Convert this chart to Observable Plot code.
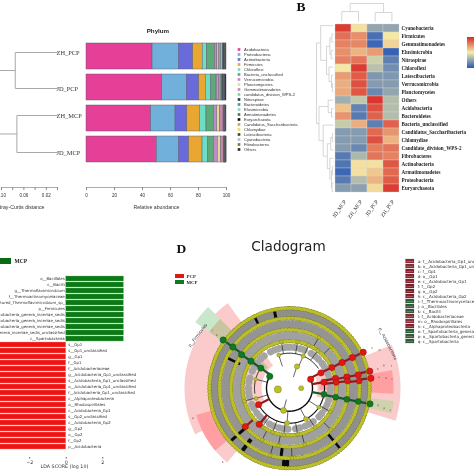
<!DOCTYPE html>
<html><head><meta charset="utf-8">
<script src="https://cdn.jsdelivr.net/npm/d3@7"></script>
<script src="https://cdn.jsdelivr.net/npm/@observablehq/plot@0.6"></script>
<style>
html,body{margin:0;padding:0;background:#fff}
#root{position:relative;width:474px;height:474px;overflow:hidden;filter:blur(.3px)}
#root svg{position:absolute;left:0;top:0}
</style></head><body><div id="root"></div>
<script>
// ---------- Panel A data
const samples = ["ZH_PCP","JD_PCP","ZH_MCP","JD_MCP"];
const phyla = ["Acidobacteria","Proteobacteria","Actinobacteria","Firmicutes","Chloroflexi","Bacteria_unclassified","Verrucomicrobia","Planctomycetes","Gemmatimonadetes","candidatus_division_WPS-2","Nitrospirae","Bacteroidetes","Elusimicrobia","Armatimonadetes","Euryarchaeota","Candidatus_Saccharibacteria","Chlamydiae","Latescibacteria","Cyanobacteria","Fibrobacteres","Others"];
const phylaColors = ["#E63F98","#71B0DB","#6A6BDB","#E9A732","#6FDCC6","#5BAA78","#BF8BC9","#E6D89B","#C68BA8","#6FD9A0","#2B3B42","#5A8A92","#82D8D0","#3E7E3E","#101010","#E0A030","#E8D860","#2F5030","#B8B8C8","#8A7030","#2A2A34"];
const zhPcp = [47.2,18.8,10.2,6.8,3.2,5.6,1.6,1.0,1.6,1.4,0.3,0.2,0.1,0.1,0.5,0.1,0.1,0.6,0.1,0.1,0.4];
const jdPcp = [54.1,17.6,8.8,4.7,3.8,3.4,1.2,0.8,1.6,1.0,0.2,0.2,0.1,0.1,0.6,0.1,0.1,0.4,0.1,0.1,1.0];
const zhMcp = [46.2,17.4,8.4,9.0,4.7,5.3,2.3,2.2,2.4,0.4,0.1,0.1,0.1,0.1,0.2,0.1,0.1,0.1,0.1,0.1,0.6];
const jdMcp = [50.2,15.8,7.3,9.6,4.1,4.0,2.8,2.4,1.8,0.4,0.1,0.1,0.1,0.1,0.2,0.1,0.1,0.1,0.1,0.1,0.6];
const abundanceTicks = [0,20,40,60,80,100];
const distanceTicks = [0.10,0.08,0.06,0.04,0.02,0];
const distanceLabels = [0.10,0.06,0.02];
// leaf rows of the Bray-Curtis tree, and the tree as [height, left, right]
const sampleRows = [0,1.08,1.89,3];
const sampleTree = [0.13,[0.0754,0,1],[0.0725,2,3]];
// ---------- Panel B data
const heatCols = ["JD_MCP","ZH_MCP","JD_PCP","ZH_PCP"];
const heatRows = ["Cyanobacteria","Firmicutes","Gemmatimonadetes","Elusimicrobia","Nitrospirae","Chloroflexi","Latescibacteria","Verrucomicrobia","Planctomycetes","Others","Acidobacteria","Bacteroidetes","Bacteria_unclassified","Candidatus_Saccharibacteria","Chlamydiae","Candidate_division_WPS-2","Fibrobacteres","Actinobacteria","Armatimonadetes","Proteobacteria","Euryarchaeota"];
const heatJdMcp = [1.4,1.0,0.85,0.75,0.85,0.05,0.65,0.5,0.55,-0.65,0.35,0.7,-0.35,-0.85,-0.85,-0.85,-1.2,-1.25,-1.4,-1.2,-0.85];
const heatZhMcp = [0.1,0.75,0.8,0.45,0.95,1.4,1.15,1.25,1.2,-0.4,-1.1,-1.2,0.5,-0.85,-0.85,-1.05,-0.55,0.1,0.1,-0.5,-0.8];
const heatJdPcp = [-0.75,-1.3,-1.4,0.65,-0.3,-0.45,-0.9,-0.85,-1.05,1.45,1.25,1.1,-1.15,1.05,1.25,0.9,0.95,0.1,0.3,0.45,0.15];
const heatZhPcp = [-0.75,0.05,0.2,-1.45,-1.15,-1.0,-0.9,-0.85,-0.75,-0.5,-0.5,-0.5,1.1,0.7,0.45,0.95,0.85,1.2,1.05,1.15,1.4];
const colorBar = [1.5,1.4,1.3,1.2,1.1,1,0.9,0.8,0.7,0.6,0.5,0.4,0.3,0.2,0.1,0,-0.1,-0.2,-0.3,-0.4,-0.5,-0.6,-0.7,-0.8,-0.9,-1,-1.1,-1.2,-1.3,-1.4,-1.5];
const colTree = [1,[0.55,0,1],[0.5,2,3]];
const rowTree = [1,
  [0.75,0,[0.4,[0.2,[0.08,1,2],[0.12,3,4]],[0.25,5,[0.1,6,[0.05,7,8]]]]],
  [0.85,[0.3,9,[0.1,10,11]],[0.6,12,[0.35,[0.15,[0.05,13,14],15],[0.2,16,[0.1,[0.05,17,18],[0.07,19,20]]]]]]];
// ---------- Panel C data
const mcpTaxa = ["o__Bacillales","c__Bacilli","g__Thermoflavimicrobium","f__Thermoactinomycetaceae","s__uncultured_Thermoflavimicrobium_sp_","p__Firmicutes","f__Spartobacteria_genera_incertae_sedis","o__Spartobacteria_genera_incertae_sedis","g__Spartobacteria_genera_incertae_sedis","s__Spartobacteria_genera_incertae_sedis_unclassified","c__Spartobacteria"];
const mcpLda = [3.16,3.15,3.16,3.16,3.15,3.16,3.16,3.15,3.16,3.16,3.15];
const pcpTaxa = ["s__Gp1","s__Gp1_unclassified","g__Gp1","f__Gp1","f__Acidobacteriaceae","g__Acidobacteria_Gp1_unclassified","s__Acidobacteria_Gp1_unclassified","o__Acidobacteria_Gp1_unclassified","f__Acidobacteria_Gp1_unclassified","c__Alphaproteobacteria","o__Rhodospirillales","c__Acidobacteria_Gp1","s__Gp2_unclassified","c__Acidobacteria_Gp2","g__Gp2","o__Gp2","f__Gp2","p__Acidobacteria"];
const pcpLda = [-4,-4,-4,-4,-4,-4,-4,-4,-4,-4,-4,-4,-4,-4,-4,-4,-4,-4];
const ldaTicks = [-2,0,2];
// ---------- Panel D data (bearing in degrees clockwise from north, level = ring)
const levelRadius = [0,11.7,23,35,47,58.5,70,82];
const sectors = [
  [67,107,28,111,"#FBCACA"],[80,93,30,104,"#FF9FA2"],[97,104,60,105,"#CFD2AC"],
  [244,324,28,105,"#FBCACA"],[220,246,55,97,"#FBCACA"],[230,254,68,97,"#FF9FA2"],
  [305,315,82,115,"#C9E8C9"],[305,315,30,98,"#C9C4A2"]];
const stripeBands = [
  [41,"#a4a4a4",7,".7 4 .5 5.5 1 3 .5 7.5 .7 3.5"],
  [52.5,"#a0a0a0",8,"1.3 1.7 .6 2.1 1.6 1.3 .5 2.8 2.2 1.5 .9 1.9"],
  [64,"#949494",8,"2.8 .9 1.1 1.3 3.4 1 .6 .9 1.8 1.6"],
  [75,"#8f8f8f",8,"3.4 1 1.2 1 2.2 1.4 .7 .9 4.4 1.1"]];
const blackWedges = [[183,71,81,7],[187,60,70,3],[217,64,81,4],[349,70,80,3],[334,70,80,2.5],[228,60,80,3],[140,60,80,2.5],[296,55,70,2.5]];
const blackArcs = [
  [23,67,301,1.4],[35,80,242,1.1],[35,345,415,1],[47,100,262,.8],[47,335,420,.8],[35,262,300,.9]];
const beadRings = [47,58.5,70,80];
const yellowNodes = [[264,1,3.6],[90,1,2.5],[195,2,3],[19,2,2.6],[184,3,2.5],[152,3,2.5],[123,3,2],[23,3,2.2],[253,3,2],[285,3,1.8],[342,3,2],
  [24,4,2],[37,4,2],[187,4,1.9],[147,4,1.9],[201,4,1.9],[254,4,1.9],[120,4,1.8],[170,4,1.8],[215,4,1.8],[350,4,1.8],[10,4,1.8],
  [191,5,1.8],[165,5,1.8],[135,5,1.8],[208,5,1.8],[30,5,1.8],[45,5,1.8],[196,6,1.8],[178,6,1.8]];
const redNodes = [[67,2,3.2],[64,3,3.2],[64,4,3.2],[64,5,3.2],[64,6,3.2],[64,7,3.2],[80,3,3.2],[78,4,3.2],[79,5,3.2],[79,6,3.2],[78,7,3.2],[83,4,3],[83,5,3],[84,6,3],[83,7,3.2],[242,3,3.2],[220,4,3.2],[229,5,3.2]];
const greenNodes = [[301,2,3.2],[305,3,3.2],[305,4,3.2],[305,5,3.2],[306,6,3.2],[306,7,3.2],[100,3,3],[101,4,3],[101,5,3],[101,6,3],[101,7,3.2]];
const nodeTags = [["n",64,92],["m",67,98],["h",78,90],["g",76,97],["f",78,104],["e",83,90],["d",84,97],["c",85,103],["q",101,90],["p",102,97],["o",102,103],["k",306,90],["j",307,97],["i",307,104],["a",253,101],["b",222,100]];
const cladoLegend = ["a: f__Acidobacteria_Gp1_unclassified","b: o__Acidobacteria_Gp1_unclassified","c: f__Gp1","d: o__Gp1","e: c__Acidobacteria_Gp1","f: f__Gp2","g: o__Gp2","h: c__Acidobacteria_Gp2","i: f__Thermoactinomycetaceae","j: o__Bacillales","k: c__Bacilli","l: f__Acidobacteriaceae","m: o__Rhodospirillales","n: c__Alphaproteobacteria","o: f__Spartobacteria_genera_incertae_sedis","p: o__Spartobacteria_genera_incertae_sedis","q: c__Spartobacteria"];
const cladoLegendColors = ["#8C2833","#8C2833","#8A1F2C","#8A1F2C","#8A1F2C","#7E1A26","#7E1A26","#8A1F2C","#2E5C3A","#2E5C3A","#2E5C3A","#8C2833","#8C2F3F","#8A1F2C","#2E5C3A","#2E5C3A","#2E5C3A"];

// ---------- helpers
const SANS = "'Liberation Sans',Arial,sans-serif", SERIF = "'Liberation Serif',serif", DEJA = "'DejaVu Sans',sans-serif";
const root = document.getElementById("root");
function fig(box, marks, scales = {}, font = SANS, size = 5) {
  const [l, t, r, b] = box;
  const svg = Plot.plot({width:474, height:474, marginLeft:l, marginTop:t, marginRight:474-r, marginBottom:474-b,
    x:{axis:null}, y:{axis:null}, ...scales, marks,
    style:{background:"transparent", fontFamily:font, fontSize:size+"px", overflow:"hidden"}});
  root.appendChild(svg);
  return svg;
}
function treeSegments(node, pos) {
  const segs = [];
  const walk = n => {
    if (typeof n === "number") return {h:0, p:pos(n)};
    const a = walk(n[1]), b = walk(n[2]), h = n[0];
    segs.push({h1:h,p1:a.p,h2:h,p2:b.p},{h1:a.h,p1:a.p,h2:h,p2:a.p},{h1:b.h,p1:b.p,h2:h,p2:b.p});
    return {h, p:(a.p+b.p)/2};
  };
  walk(node);
  return segs;
}
const rad = d => d*Math.PI/180;
const pol = (b, r) => ({x:r*Math.sin(rad(b)), y:r*Math.cos(rad(b))});
const arcPts = (r, a0, a1) => d3.range(a0, a1+0.5, 1).map(b => pol(b, r));

// ---------- Panel A: tree
fig([1,52,57,152], [
  Plot.link(treeSegments(sampleTree, i => sampleRows[i]), {x1:"h1",y1:"p1",x2:"h2",y2:"p2",stroke:"#a9a9a9",strokeWidth:1}),
  Plot.text(samples, {x:0, y:(d,i)=>sampleRows[i], text:d=>d, textAnchor:"start", fontSize:6.4, fill:"#333", dx:-1, fontFamily:SERIF})
], {x:{axis:null,domain:[0.10,0]}, y:{axis:null,domain:[3,0]}});
// Panel A: distance axis
fig([1,160,57,187], [
  Plot.frame({anchor:"bottom", stroke:"#8a8a8a", strokeWidth:.7}),
  Plot.axisX({ticks:distanceTicks, tickSize:3, tickPadding:3, stroke:"#8a8a8a", fill:"#333", tickFormat:d=>distanceLabels.some(v=>Math.abs(v-d)<1e-9)?d.toFixed(2):""}),
  Plot.text(["Bray-Curtis distance"], {x:0.065, frameAnchor:"bottom", dy:21, fontSize:5.2, fill:"#333"})
], {x:{axis:null,domain:[0.10,0]}}, SANS, 4.6);
// Panel A: stacked bars
const abundance = samples.flatMap((s,k)=>[zhPcp,jdPcp,zhMcp,jdMcp][k].map((v,i)=>({sample:s, phylum:phyla[i], v})));
fig([86,41.5,226,164], [
  Plot.barX(abundance, {x:"v", y:"sample", fill:"phylum", order:null, stroke:"#5a5a6a", strokeWidth:.45, offset:null})
], {x:{axis:null,domain:[0,100]}, y:{axis:null,domain:samples,paddingInner:.17,paddingOuter:0}, color:{domain:phyla,range:phylaColors}});
fig([86,160,226,187], [
  Plot.frame({anchor:"bottom", stroke:"#8a8a8a", strokeWidth:.7}),
  Plot.axisX({ticks:abundanceTicks, tickSize:3, tickPadding:3, stroke:"#8a8a8a", fill:"#333"}),
  Plot.text(["Relative abundance"], {x:50, frameAnchor:"bottom", dy:21, fontSize:5.2, fill:"#333"}),
  Plot.text(["Phylum"], {x:51, frameAnchor:"top", dy:-132, fontSize:6.2, fontWeight:"bold", fill:"#222"})
], {x:{axis:null,domain:[0,100]}}, SANS, 4.6);
// Panel A: legend
fig([236,47.6,300,150], [
  Plot.dot(phyla, {y:d=>d, frameAnchor:"left", dx:2.5, symbol:"square", r:1.5, fill:(d,i)=>phylaColors[i], stroke:"none"}),
  Plot.text(phyla, {y:d=>d, frameAnchor:"left", dx:7.5, textAnchor:"start", fontSize:4.1, fill:"#333"})
], {y:{axis:null,domain:phyla,padding:0}, color:{type:"identity"}});

// ---------- Panel B
const heat = heatRows.flatMap((r,i)=>[heatJdMcp,heatZhMcp,heatJdPcp,heatZhPcp].map((c,j)=>({row:r,col:heatCols[j],z:c[i]})));
const heatColor = {type:"linear", domain:[-1.5,0,1.5], range:["#2F5DB5","#F6EDA8","#D9302A"], interpolate:"rgb"};
fig([333,21,400,195], [
  Plot.cell(heat, {x:"col", y:"row", fill:"z", stroke:"#d4d4d4", strokeWidth:.35}),
  Plot.text(heatRows, {y:d=>d, frameAnchor:"right", textAnchor:"start", dx:1, fontSize:5.1, fontWeight:"bold", fill:"#222"}),
  Plot.text(heatCols, {x:d=>d, frameAnchor:"bottom", textAnchor:"end", rotate:-55, dy:6, dx:3, fontSize:5.4, fill:"#222"})
], {x:{axis:null,domain:heatCols,padding:0}, y:{axis:null,domain:heatRows,padding:0}, color:heatColor}, SERIF, 5);
fig([341.3,3,391.4,21], [
  Plot.link(treeSegments(colTree, i=>i), {x1:"p1",y1:"h1",x2:"p2",y2:"h2",stroke:"#c4c4c4",strokeWidth:.7})
], {x:{axis:null,domain:[0,3]}, y:{axis:null,domain:[0,1]}});
fig([316,25.1,332.7,190.9], [
  Plot.link(treeSegments(rowTree, i=>i), {x1:"h1",y1:"p1",x2:"h2",y2:"p2",stroke:"#c4c4c4",strokeWidth:.7})
], {x:{axis:null,domain:[1,0]}, y:{axis:null,domain:[20,0]}});
fig([467,27,474,77], [
  Plot.cell(colorBar, {y:d=>d, fill:d=>d})
], {y:{axis:null,type:"band",domain:colorBar,padding:0}, color:heatColor});
fig([280,0,320,20], [
  Plot.text(["B"], {frameAnchor:"top-left", dx:16, dy:1, fontSize:13.5, fontWeight:"bold", fill:"#111", fontFamily:SERIF})
]);

// ---------- Panel C
const ldaBars = [...mcpTaxa.map((t,i)=>({t,v:mcpLda[i]})), ...pcpTaxa.map((t,i)=>({t,v:pcpLda[i]}))];
const ldaAll = ldaBars.map(d=>d.t);
fig([0,273,123.3,452], [
  Plot.barX(ldaBars, {x:"v", y:"t", fill:d=>d.v>0?"#0A7A14":"#EE1414", stroke:d=>d.v>0?"#7FAF7F":"#EE9A9A", strokeWidth:.35}),
  Plot.text(mcpTaxa, {x:0, y:d=>d, textAnchor:"end", dx:-1.5, fontSize:3.9, fill:"#333"}),
  Plot.text(pcpTaxa, {x:0, y:d=>d, textAnchor:"start", dx:2, fontSize:3.9, fill:"#333"})
], {x:{axis:null,domain:[-3.6,3.15]}, y:{axis:null,domain:ldaAll,padding:.1}, color:{type:"identity"}}, DEJA);
fig([0,440,123.3,457], [
  Plot.axisX({ticks:ldaTicks, tickSize:1.5, tickPadding:1.5, stroke:"#555", fill:"#333", tickFormat:d3.format("d")}),
  Plot.text(["LDA SCORE (log 10)"], {x:-0.1, frameAnchor:"bottom", dy:10.5, fontSize:4.8, fill:"#333"})
], {x:{axis:null,domain:[-3.6,3.15]}}, DEJA, 4.8);
fig([0,255,40,267], [
  Plot.barX(["MCP"], {x1:0, x2:11, y:d=>d, fill:"#0A6A14"}),
  Plot.text(["MCP"], {x:14, y:d=>d, textAnchor:"start", fontSize:5.5, fontWeight:"bold", fill:"#222", fontFamily:SERIF})
], {x:{axis:null,domain:[0,40]}, y:{axis:null,domain:["MCP"],padding:.3}});

// ---------- Panel D
const wheelScales = {x:{axis:null,domain:[-115,115]}, y:{axis:null,domain:[-86.3,115]}, color:{type:"identity"}, r:{type:"identity"}};
const full = r => arcPts(r,0,360);
const nodePt = n => ({...pol(n[0], levelRadius[n[1]]), r:n[2], b:n[0], lv:n[1]});
const stem = n => ({...pol(n[0], levelRadius[n[1]-1]), x2:pol(n[0], levelRadius[n[1]]).x, y2:pol(n[0], levelRadius[n[1]]).y});
const wheelMarks = [
  ...sectors.map(s => Plot.line([...arcPts(s[3],s[0],s[1]), ...arcPts(s[2],s[0],s[1]).reverse()], {x:"x",y:"y",fill:s[4],stroke:"none"})),
  ...stripeBands.map(b => Plot.line(full(b[0]), {x:"x",y:"y",stroke:b[1],strokeWidth:b[2],strokeDasharray:b[3]})),
  Plot.link(blackWedges, {x1:d=>pol(d[0],d[1]).x, y1:d=>pol(d[0],d[1]).y, x2:d=>pol(d[0],d[2]).x, y2:d=>pol(d[0],d[2]).y, stroke:"#0a0a0a", strokeWidth:d=>d[3]}),
  ...blackArcs.map(a => Plot.line(arcPts(a[0],a[1],a[2]), {x:"x",y:"y",stroke:"#0c0c0c",strokeWidth:a[3]})),
  Plot.link(yellowNodes.filter(n=>n[1]>1).map(stem), {x1:"x",y1:"y",x2:"x2",y2:"y2",stroke:"#222",strokeWidth:.7}),
  Plot.link(redNodes.filter(n=>n[1]>2).map(stem), {x1:"x",y1:"y",x2:"x2",y2:"y2",stroke:"#8E1C1C",strokeWidth:2.2}),
  Plot.link(greenNodes.filter(n=>n[1]>2).map(stem), {x1:"x",y1:"y",x2:"x2",y2:"y2",stroke:"#1A5A24",strokeWidth:2.2}),
  ...beadRings.flatMap(r => [
    Plot.line(full(r), {x:"x",y:"y",stroke:"#7A7C1A",strokeWidth:4.3,strokeDasharray:"0.01 3.1",strokeLinecap:"round"}),
    Plot.line(full(r), {x:"x",y:"y",stroke:"#BBBF2A",strokeWidth:3.6,strokeDasharray:"0.01 3.1",strokeLinecap:"round"})]),
  Plot.dot(yellowNodes.map(nodePt), {x:"x",y:"y",r:"r",fill:"#BBBF2A",stroke:"#74761A",strokeWidth:.4}),
  Plot.dot(redNodes.map(nodePt), {x:"x",y:"y",r:"r",fill:"#E31616",stroke:"#7A1212",strokeWidth:.4}),
  Plot.dot(greenNodes.map(nodePt), {x:"x",y:"y",r:"r",fill:"#0F7A24",stroke:"#0C4A18",strokeWidth:.4}),
  Plot.text(nodeTags, {x:d=>pol(d[1],d[2]).x, y:d=>pol(d[1],d[2]).y, text:d=>d[0], fontSize:2.8, fill:"#7a2a2a"}),
  Plot.text(["p__Firmicutes"], {x:pol(300,106).x, y:pol(300,106).y, rotate:-53, fontSize:4.2, fill:"#333"}),
  Plot.text(["p__Acidobacteria"], {x:pol(65.7,108).x, y:pol(65.7,108).y, rotate:63, fontSize:4.2, fill:"#333"})
];
fig([174,272.7,404,474], wheelMarks, wheelScales, DEJA, 4);
fig([170,240,470,262], [
  Plot.text(["Cladogram"], {x:118, frameAnchor:"top", dy:1, fontSize:13.6, fill:"#222", fontFamily:DEJA}),
  Plot.text(["D"], {frameAnchor:"top-left", dx:6, dy:3, fontSize:13.5, fontWeight:"bold", fill:"#111", fontFamily:SERIF})
], {x:{axis:null,domain:[0,300]}});
fig([175,271,215,287], [
  Plot.barX(["PCP","MCP"], {x1:0, x2:9, y:d=>d, fill:d=>d==="PCP"?"#E31616":"#0F7A24"}),
  Plot.text(["PCP","MCP"], {x:11, y:d=>d, textAnchor:"start", fontSize:4.8, fontWeight:"bold", fill:"#222", fontFamily:SERIF})
], {x:{axis:null,domain:[0,40]}, y:{axis:null,domain:["PCP","MCP"],padding:.35}, color:{type:"identity"}});
fig([405.5,254,474,348], [
  Plot.barX(cladoLegend, {x1:0, x2:8.5, y:d=>d, fill:(d,i)=>cladoLegendColors[i], stroke:"#555", strokeWidth:.2}),
  Plot.ruleY(cladoLegend, {y:d=>d, x1:1, x2:7.5, stroke:"#d9b8b8", strokeWidth:.5, strokeOpacity:.7}),
  Plot.text(cladoLegend, {x:11.7, y:d=>d, textAnchor:"start", fontSize:4, fill:"#333"})
], {x:{axis:null,domain:[0,68.5]}, y:{axis:null,domain:cladoLegend,padding:.3}, color:{type:"identity"}}, DEJA);
</script></body></html>
